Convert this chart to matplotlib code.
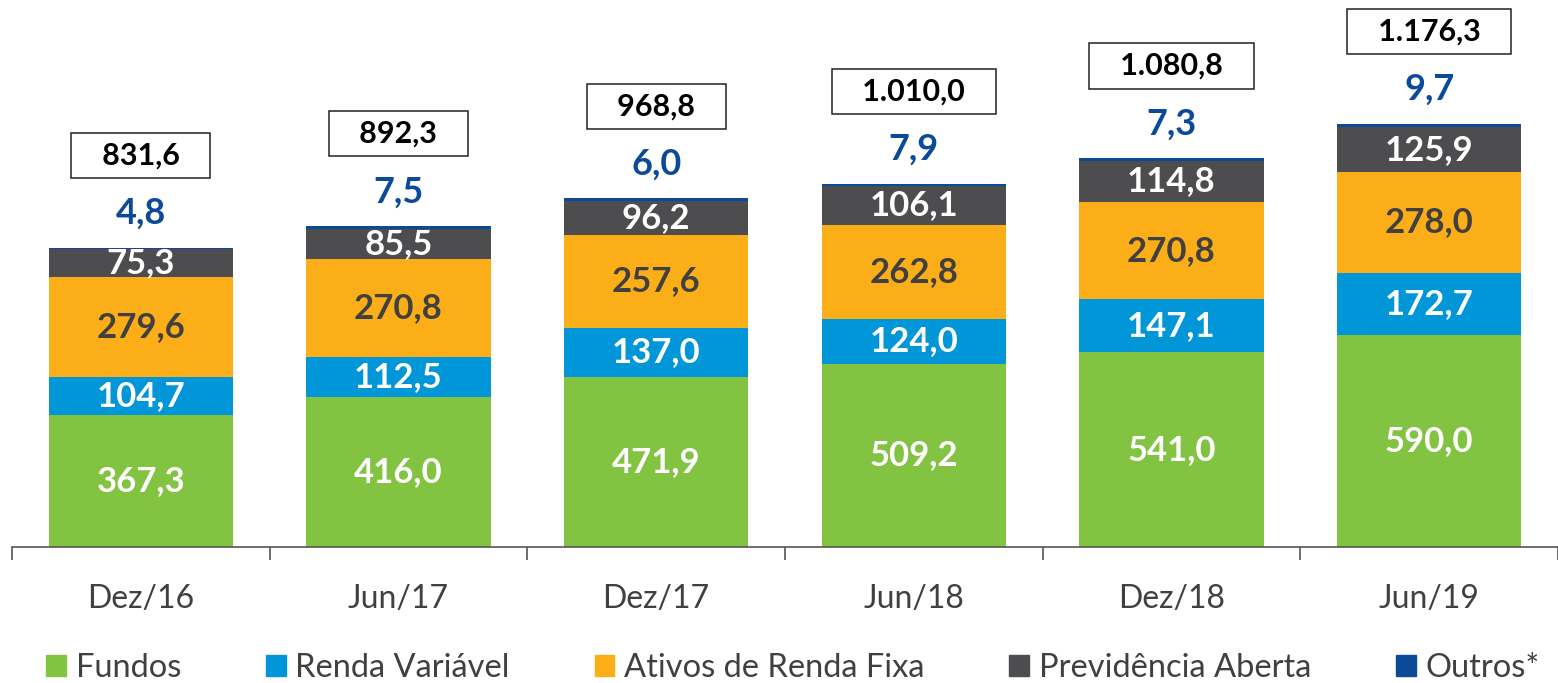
import numpy as np
import matplotlib
matplotlib.use("Agg")
import matplotlib.pyplot as plt
from matplotlib.patches import Patch

plt.rcParams['font.family'] = ['Lato', 'DejaVu Sans']

# dados (R$ bilhões)
periodos = ['Dez/16', 'Jun/17', 'Dez/17', 'Jun/18', 'Dez/18', 'Jun/19']
fundos = [367.3, 416.0, 471.9, 509.2, 541.0, 590.0]
renda_variavel = [104.7, 112.5, 137.0, 124.0, 147.1, 172.7]
renda_fixa = [279.6, 270.8, 257.6, 262.8, 270.8, 278.0]
previdencia = [75.3, 85.5, 96.2, 106.1, 114.8, 125.9]
outros = [4.8, 7.5, 6.0, 7.9, 7.3, 9.7]
totais = ['831,6', '892,3', '968,8', '1.010,0', '1.080,8', '1.176,3']

series = [
    ('Fundos', fundos, '#82C341', 'white'),
    ('Renda Variável', renda_variavel, '#0096D8', 'white'),
    ('Ativos de Renda Fixa', renda_fixa, '#FCAE19', '#404040'),
    ('Previdência Aberta', previdencia, '#4D4D4F', 'white'),
    ('Outros*', outros, '#0A4A97', None),
]

def fmt(v):
    return f'{v:.1f}'.replace('.', ',')

fig = plt.figure(figsize=(15.58, 6.83), dpi=100)
ax = fig.add_axes([12 / 1558, 136 / 683, 1546 / 1558, 547 / 683])

x = np.arange(len(periodos))
base = np.zeros(len(periodos))
for nome, vals, cor, cor_txt in series:
    vals = np.array(vals)
    ax.bar(x, vals, bottom=base, width=0.715, color=cor, label=nome)
    if cor_txt is not None:
        for xi, b, v in zip(x, base, vals):
            ax.text(xi, b + v / 2, fmt(v), ha='center', va='center',
                    fontsize=25, fontweight='bold', color=cor_txt)
    base = base + vals

# rótulo de "Outros" e total em caixa
for xi, topo, v, t in zip(x, base, outros, totais):
    ax.annotate(fmt(v), (xi, topo), xytext=(0, 34), textcoords='offset pixels',
                ha='center', va='center', fontsize=26, fontweight='bold',
                color='#0B4A9A')
    ax.annotate('   ' + t + '   ', (xi, topo), xytext=(0, 92),
                textcoords='offset pixels', ha='center', va='center',
                fontsize=22, fontweight='bold', color='black',
                bbox=dict(boxstyle='square,pad=0.28', facecolor='white',
                          edgecolor='#222222', linewidth=1.1))

ax.set_xlim(-0.5, len(periodos) - 0.5)
ax.set_ylim(0, 1520)
for s in ['top', 'right', 'left']:
    ax.spines[s].set_visible(False)
ax.spines['bottom'].set_color('#555555')
ax.spines['bottom'].set_linewidth(1.2)
ax.set_yticks([])
ax.set_xticks(x)
ax.set_xticklabels(periodos, fontsize=23, color='#404040')
ax.tick_params(axis='x', which='major', length=0, pad=27)
ax.set_xticks(np.arange(-0.5, len(periodos)), minor=True)
ax.tick_params(axis='x', which='minor', length=9, width=1.2, color='#555555',
               direction='out')

handles = [Patch(color=c, label=n) for n, _, c, _ in series]
leg = fig.legend(handles=handles, loc='center', bbox_to_anchor=(0.509, 0.022),
                 ncol=5, frameon=False, fontsize=23.5, handlelength=0.6,
                 handleheight=0.6, handletextpad=0.3, columnspacing=2.6,
                 borderaxespad=0)
for t in leg.get_texts():
    t.set_color('#404040')

fig.savefig('out.png', dpi=100)
